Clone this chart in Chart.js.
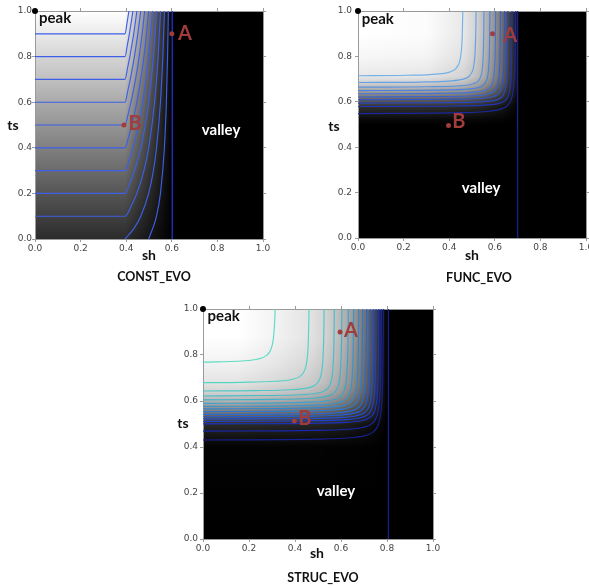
<!DOCTYPE html>
<html>
<head>
<meta charset="utf-8">
<script src="https://cdn.jsdelivr.net/npm/chart.js@4.4.0/dist/chart.umd.min.js"></script>
<style>
  html, body { margin: 0; padding: 0; background: #ffffff; }
  #wrap { position: relative; width: 589px; height: 588px; overflow: hidden; background: #fff; }
  canvas { position: absolute; }
  .lbl { position: absolute; font-family: Lato, "Open Sans", sans-serif; font-weight: bold; color: #111;
         line-height: 1; white-space: nowrap; transform: translate(-50%, -50%); }
  .ax { font-size: 14px; }
  .ttl { font-size: 12.5px; }
</style>
</head>
<body>
<div id="wrap">
  <canvas id="c1" width="289" height="254" style="left:0px;top:0px;width:289px;height:254px"></canvas>
  <canvas id="c2" width="269" height="253" style="left:320px;top:0px;width:269px;height:253px"></canvas>
  <canvas id="c3" width="300" height="256" style="left:160px;top:298px;width:300px;height:256px"></canvas>

  <div class="lbl ax" style="left:13px;top:125px">ts</div>
  <div class="lbl ax" style="left:149px;top:255px">sh</div>
  <div class="lbl ttl" style="left:154px;top:277px">CONST_EVO</div>

  <div class="lbl ax" style="left:334px;top:126px">ts</div>
  <div class="lbl ax" style="left:472px;top:255px">sh</div>
  <div class="lbl ttl" style="left:479px;top:278px">FUNC_EVO</div>

  <div class="lbl ax" style="left:183px;top:423px">ts</div>
  <div class="lbl ax" style="left:317px;top:553px">sh</div>
  <div class="lbl ttl" style="left:323px;top:578px">STRUC_EVO</div>
</div>
<script>
// ---------------- data ----------------
const tickValues = [0, 0.2, 0.4, 0.6, 0.8, 1.0];
const tickLabels = ['0.0', '0.2', '0.4', '0.6', '0.8', '1.0'];

const markNames = ['A', 'B'];
const regionNames = ['peak', 'valley'];

// ----- CONST_EVO -----
const p1ShadeTs = [0, 1];
const p1ShadeTsGray = [0.17, 1];
const p1ShadeSh = [0, 0.395, 0.602, 1];
const p1ShadeShGray = [1, 1, 0, 0];
const p1Contours = [
  [[0,.9],[.395,.9],[.404,.95],[.412,1]],
  [[0,.8],[.395,.8],[.405,.85],[.414,.9],[.422,.95],[.4295,1]],
  [[0,.7],[.395,.7],[.406,.75],[.416,.8],[.433,.9],[.447,1]],
  [[0,.6],[.395,.6],[.407,.65],[.418,.7],[.436,.8],[.451,.9],[.464,1]],
  [[0,.5],[.395,.5],[.409,.55],[.421,.6],[.441,.7],[.457,.8],[.470,.9],[.481,1]],
  [[0,.4],[.395,.4],[.411,.45],[.425,.5],[.447,.6],[.464,.7],[.478,.8],[.489,.9],[.4985,1]],
  [[0,.3],[.395,.3],[.414,.35],[.4295,.4],[.454,.5],[.4726,.6],[.487,.7],[.4985,.8],[.5157,1]],
  [[0,.2],[.395,.2],[.418,.25],[.4364,.3],[.464,.4],[.4837,.5],[.4985,.6],[.5192,.8],[.533,1]],
  [[0,.1],[.395,.1],[.4246,.15],[.4467,.2],[.4778,.3],[.4985,.4],[.5244,.6],[.5399,.8],[.5502,1]],
  [[.395,0],[.4364,.05],[.464,.1],[.4985,.2],[.5192,.3],[.533,.4],[.5502,.6],[.5606,.8],[.5675,1]],
  [[.4985,0],[.533,.1],[.5502,.2],[.5675,.4],[.5761,.6],[.5813,.8],[.5848,1]]
];
const p1Edge = [[.602,0],[.602,1]];
const p1Marks = [[0.6, 0.9], [0.39, 0.5]];
const p1Regions = [[0.0175, 0.946], [0.816, 0.457]];

// ----- FUNC_EVO -----
const p2ShadeTs = [0, .50, .52, .546, .578, .593, .608, .620, .634, .648, .663, .683, .712, .80, .90, 1];
const p2ShadeTsGray = [0, 0, .03, .10, .19, .28, .37, .46, .55, .64, .73, .82, .91, .97, 1, 1];
const p2ShadeSh = [0, .30, .464, .521, .555, .581, .606, .627, .645, .659, .678, .695, .70, 1];
const p2ShadeShGray = [1, .99, .91, .82, .73, .64, .55, .46, .37, .28, .19, .10, 0, 0];
const p2Contours = [
  [[0,.7146],[.214,.7168],[.344,.722],[.404,.732],[.429,.7463],[.444,.772],[.452,.812],[.457,.883],[.4598,1]],
  [[0,.6849],[.271,.687],[.401,.6913],[.461,.6997],[.486,.7116],[.501,.733],[.509,.7663],[.514,.826],[.517,.933],[.5178,1]],
  [[0,.6644],[.305,.6662],[.435,.6697],[.495,.6763],[.52,.6859],[.535,.703],[.543,.7297],[.548,.777],[.551,.863],[.5526,1]],
  [[0,.6494],[.331,.6512],[.461,.6547],[.521,.6613],[.546,.6709],[.561,.688],[.569,.7147],[.574,.762],[.577,.848],[.5787,1]],
  [[0,.6353],[.356,.6372],[.486,.6407],[.546,.6473],[.571,.6569],[.586,.674],[.594,.7007],[.599,.748],[.602,.834],[.6038,1]],
  [[0,.6213],[.377,.6232],[.507,.6267],[.567,.6333],[.592,.6429],[.607,.66],[.615,.6867],[.62,.734],[.623,.82],[.6249,1]],
  [[0,.6092],[.395,.6112],[.525,.6147],[.585,.6213],[.61,.6309],[.625,.648],[.633,.6747],[.638,.722],[.641,.808],[.643,1]],
  [[0,.5942],[.409,.5962],[.539,.5997],[.599,.6063],[.624,.6159],[.639,.633],[.647,.6597],[.652,.707],[.655,.793],[.657,1]],
  [[0,.5793],[.428,.5816],[.558,.5855],[.618,.593],[.643,.6037],[.658,.623],[.666,.653],[.671,.7066],[.674,.803],[.6759,1]],
  [[0,.5482],[.445,.552],[.575,.5585],[.635,.571],[.66,.5889],[.675,.621],[.683,.671],[.688,.76],[.691,.921],[.6917,1]]
];
const p2Edge = [[.70,0],[.70,1]];
const p2Marks = [[0.59, 0.9], [0.397, 0.496]];
const p2Regions = [[0.016, 0.943], [0.54, 0.2]];

// ----- STRUC_EVO -----
const p3ShadeTs = [0, .40, .428, .467, .499, .510, .520, .530, .540, .552, .564, .575, .588, .603, .620, .641, .677, .764, .88, 1];
const p3ShadeTsGray = [0, .01, .05, .11, .17, .23, .29, .35, .41, .47, .53, .59, .65, .71, .77, .83, .89, .95, 1, 1];
const p3ShadeSh = [0, .15, .320, .465, .530, .574, .607, .635, .658, .680, .697, .714, .729, .743, .755, .767, .778, .788, .806, 1];
const p3ShadeShGray = [1, 1, .95, .89, .83, .77, .71, .65, .59, .53, .47, .41, .35, .29, .23, .17, .11, .05, 0, 0];
const p3Contours = [
  [[0,.7687],[.17,.774],[.24,.7828],[.275,.7973],[.295,.824],[.306,.8711],[.312,.9515],[.3136,1]],
  [[0,.6798],[.165,.6813],[.315,.6857],[.385,.6933],[.42,.7059],[.44,.729],[.451,.7699],[.457,.8395],[.4605,.9659],[.461,1]],
  [[0,.6433],[.23,.645],[.38,.649],[.45,.656],[.485,.6677],[.505,.689],[.516,.7267],[.522,.791],[.5255,.9077],[.5267,1]],
  [[0,.6219],[.274,.6237],[.424,.6273],[.494,.6338],[.529,.6444],[.549,.664],[.56,.6986],[.566,.7575],[.5695,.8644],[.5711,1]],
  [[0,.605],[.307,.607],[.457,.611],[.527,.618],[.562,.6297],[.582,.651],[.593,.6887],[.599,.753],[.6025,.8697],[.604,1]],
  [[0,.5899],[.335,.592],[.485,.596],[.555,.603],[.59,.6147],[.61,.636],[.621,.6737],[.627,.738],[.6305,.8547],[.6321,1]],
  [[0,.5768],[.358,.579],[.508,.583],[.578,.59],[.613,.6017],[.633,.623],[.644,.6607],[.65,.725],[.6535,.8417],[.6552,1]],
  [[0,.5658],[.38,.568],[.53,.572],[.60,.579],[.635,.5907],[.655,.612],[.666,.6497],[.672,.714],[.6755,.8307],[.6772,1]],
  [[0,.5537],[.397,.556],[.547,.56],[.617,.567],[.652,.5787],[.672,.60],[.683,.6377],[.689,.702],[.6925,.8187],[.6943,1]],
  [[0,.5417],[.414,.544],[.564,.548],[.634,.555],[.669,.5667],[.689,.588],[.70,.6257],[.706,.69],[.7095,.8067],[.7114,1]],
  [[0,.5316],[.429,.534],[.579,.538],[.649,.545],[.684,.5567],[.704,.578],[.715,.6157],[.721,.68],[.7245,.7967],[.7264,1]],
  [[0,.5216],[.443,.524],[.593,.528],[.663,.535],[.698,.5467],[.718,.568],[.729,.6057],[.735,.67],[.7385,.7867],[.7405,1]],
  [[0,.5116],[.455,.514],[.605,.518],[.675,.525],[.71,.5367],[.73,.558],[.741,.5957],[.747,.66],[.7505,.7767],[.7526,1]],
  [[0,.5006],[.467,.503],[.617,.507],[.687,.514],[.722,.5257],[.742,.547],[.753,.5847],[.759,.649],[.7625,.7657],[.7646,1]],
  [[0,.4689],[.478,.472],[.628,.477],[.698,.4858],[.733,.5003],[.753,.527],[.764,.5741],[.77,.6545],[.7735,.8003],[.7752,1]],
  [[0,.4303],[.488,.434],[.638,.44],[.708,.4505],[.743,.468],[.763,.50],[.774,.5566],[.78,.653],[.7835,.828],[.7849,1]]
];
const p3Edge = [[.806,0],[.806,1]];
const p3Marks = [[0.596, 0.9], [0.397, 0.513]];
const p3Regions = [[0.02, 0.949], [0.578, 0.187]];

// ---------------- styles ----------------
const p1LineColors = p1Contours.map(() => '#3d5fe8');
const p1EdgeColor = '#1f30d0';
const p2LineColors = ['#74b2e6','#66a2e4','#5a92e0','#4f82dc','#4572d8','#3b62d2','#3254ca','#2a46c0','#2236b2','#1b289c'];
const p2EdgeColor = '#18208f';
const p3LineColors = ['#5cdcc4','#55d4c4','#4fc8c6','#49bcc8','#44b0ca','#3fa2cc','#3a94cd','#3586ce','#3078cf','#2b6ad0','#275cd0','#234ecf','#1f40ca','#1b33c0','#1827ac','#161f92'];
const p3EdgeColor = '#161e8c';
const markColor = '#a03c3c';

function gray(v) { const c = Math.round(Math.max(0, Math.min(1, v)) * 255); return `rgb(${c},${c},${c})`; }
function toXY(arr) { return arr.map(p => ({ x: p[0], y: p[1] })); }

function shadePlugin(tsPos, tsGray, shPos, shGray) {
  return {
    id: 'shade',
    beforeDraw(chart) {
      const { ctx, chartArea: a, scales } = chart;
      const xs = scales.x, ys = scales.y;
      ctx.save();
      ctx.beginPath();
      ctx.rect(a.left, a.top, a.right - a.left, a.bottom - a.top);
      ctx.clip();
      const y0 = ys.getPixelForValue(0), y1 = ys.getPixelForValue(1);
      const gv = ctx.createLinearGradient(0, y0, 0, y1);
      tsPos.forEach((p, i) => {
        const f = Math.max(0, Math.min(1, (ys.getPixelForValue(p) - y0) / (y1 - y0)));
        gv.addColorStop(f, gray(tsGray[i]));
      });
      ctx.fillStyle = gv;
      ctx.fillRect(a.left, a.top, a.right - a.left, a.bottom - a.top);
      ctx.globalCompositeOperation = 'multiply';
      const x0 = xs.getPixelForValue(0), x1 = xs.getPixelForValue(1);
      const gh = ctx.createLinearGradient(x0, 0, x1, 0);
      shPos.forEach((p, i) => {
        const f = Math.max(0, Math.min(1, (xs.getPixelForValue(p) - x0) / (x1 - x0)));
        gh.addColorStop(f, gray(shGray[i]));
      });
      ctx.fillStyle = gh;
      ctx.fillRect(a.left, a.top, a.right - a.left, a.bottom - a.top);
      ctx.restore();
    }
  };
}

function notesPlugin(marks, markOffsets, regions) {
  return {
    id: 'notes',
    afterDatasetsDraw(chart) {
      const { ctx, scales } = chart;
      const xs = scales.x, ys = scales.y;
      ctx.save();
      ctx.font = 'bold 20px Lato, "Open Sans", sans-serif';
      ctx.fillStyle = markColor;
      ctx.textAlign = 'left';
      ctx.textBaseline = 'alphabetic';
      marks.forEach((m, i) => {
        const px = xs.getPixelForValue(m[0]) + markOffsets[i][0];
        const py = ys.getPixelForValue(m[1]) + markOffsets[i][1];
        ctx.fillText(markNames[i], px, py);
      });
      ctx.font = 'bold 15px Lato, "Open Sans", sans-serif';
      ctx.fillStyle = '#111111';
      ctx.textAlign = 'left';
      ctx.fillText(regionNames[0], xs.getPixelForValue(regions[0][0]), ys.getPixelForValue(regions[0][1]));
      ctx.fillStyle = '#ffffff';
      ctx.textAlign = 'center';
      ctx.fillText(regionNames[1], xs.getPixelForValue(regions[1][0]), ys.getPixelForValue(regions[1][1]));
      ctx.restore();
    }
  };
}

function makeScales(sz, yPad) {
  const setTicks = s => { s.ticks = tickValues.map(v => ({ value: v })); };
  const grid = { drawOnChartArea: false, drawTicks: true, tickLength: 3, color: '#9a9a9a', lineWidth: 1 };
  const border = { display: true, color: '#9a9a9a', width: 1 };
  const tickFont = { family: 'DejaVu Sans', size: 9 };
  return {
    x: {
      type: 'linear', position: 'bottom', min: 0, max: 1,
      afterBuildTicks: setTicks,
      afterFit: s => { s.height = sz.bottom; s.paddingLeft = 0; s.paddingRight = 0; },
      ticks: { display: true, autoSkip: false, maxRotation: 0, padding: 1, color: '#444', font: tickFont,
               callback: (v, i) => tickLabels[i] },
      grid: grid, border: border
    },
    x2: {
      type: 'linear', position: 'top', min: 0, max: 1, display: true,
      afterBuildTicks: setTicks,
      afterFit: s => { s.height = sz.top; s.paddingLeft = 0; s.paddingRight = 0; },
      ticks: { display: false },
      grid: grid, border: border
    },
    y: {
      type: 'linear', position: 'left', min: 0, max: 1,
      afterBuildTicks: setTicks,
      afterFit: s => { s.width = sz.left; s.paddingTop = 0; s.paddingBottom = 0; },
      ticks: { display: true, autoSkip: false, padding: yPad, color: '#444', font: tickFont,
               callback: (v, i) => tickLabels[i] },
      grid: grid, border: border
    },
    y2: {
      type: 'linear', position: 'right', min: 0, max: 1, display: true,
      afterBuildTicks: setTicks,
      afterFit: s => { s.width = sz.right; s.paddingTop = 0; s.paddingBottom = 0; },
      ticks: { display: false },
      grid: grid, border: border
    }
  };
}

function buildChart(id, contours, colors, edge, edgeColor, marks, markOffsets, regions, shade, sz, yPad) {
  const datasets = [];
  datasets.push({
    data: [{ x: 0, y: 1 }], showLine: false, pointRadius: 3, pointBackgroundColor: '#000',
    pointBorderWidth: 0, clip: false, order: 0
  });
  datasets.push({
    data: toXY(marks), showLine: false, pointRadius: 2.5, pointBackgroundColor: markColor,
    pointBorderWidth: 0, order: 1
  });
  datasets.push({
    data: toXY(edge), borderColor: edgeColor, borderWidth: 1.3, pointRadius: 0, tension: 0,
    fill: false, order: 2
  });
  contours.forEach((c, i) => {
    datasets.push({
      data: toXY(c), borderColor: colors[i], borderWidth: 1.15, pointRadius: 0,
      cubicInterpolationMode: 'monotone', fill: false, order: 3 + i
    });
  });
  return new Chart(document.getElementById(id), {
    type: 'line',
    data: { datasets },
    options: {
      responsive: false, animation: false, devicePixelRatio: 1,
      layout: { padding: 0 },
      plugins: { legend: { display: false }, tooltip: { enabled: false } },
      scales: makeScales(sz, yPad),
      elements: { point: { hoverRadius: 0 } }
    },
    plugins: [shade, notesPlugin(marks, markOffsets, regions)]
  });
}

buildChart('c1', p1Contours, p1LineColors, p1Edge, p1EdgeColor, p1Marks,
  [[6.3, 6.3], [4.7, 4.7]], p1Regions,
  shadePlugin(p1ShadeTs, p1ShadeTsGray, p1ShadeSh, p1ShadeShGray),
  { left: 35, right: 26, top: 11, bottom: 15 }, 0);

buildChart('c2', p2Contours, p2LineColors, p2Edge, p2EdgeColor, p2Marks,
  [[10.7, 8], [3.7, 3]], p2Regions,
  shadePlugin(p2ShadeTs, p2ShadeTsGray, p2ShadeSh, p2ShadeShGray),
  { left: 38, right: 2, top: 11, bottom: 15 }, 3);

buildChart('c3', p3Contours, p3LineColors, p3Edge, p3EdgeColor, p3Marks,
  [[4, 4.7], [4, 4]], p3Regions,
  shadePlugin(p3ShadeTs, p3ShadeTsGray, p3ShadeSh, p3ShadeShGray),
  { left: 43, right: 27, top: 11, bottom: 15 }, 2);
</script>
</body>
</html>
